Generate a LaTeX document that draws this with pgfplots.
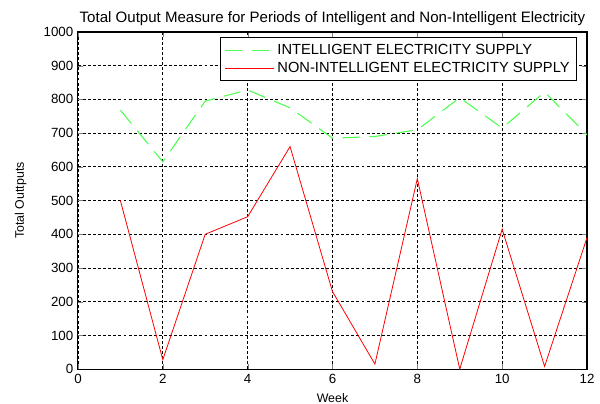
\documentclass[border=0pt]{standalone}
\usepackage{fontspec}
\setmainfont{Liberation Sans}
\usepackage{pgfplots}
\pgfplotsset{compat=1.18}
\definecolor{lgreen}{rgb}{0.3,1,0.3}

\begin{document}
\begin{tikzpicture}
\begin{axis}[
    scale only axis,
    width=382pt, height=253pt,
    xmin=0, xmax=12, ymin=0, ymax=1000,
    xtick={0,2,...,12},
    ytick={0,100,...,1000},
    tick align=inside,
    tick pos=both,
    major tick length=4pt,
    grid=major,
    major grid style={black, dash pattern=on 2.2pt off 1.6pt, line width=0.6pt},
    axis line style={black, line width=0.8pt},
    /pgf/number format/assume math mode=true,
    /pgf/number format/1000 sep={},
    tick label style={font=\fontsize{10}{12}\selectfont},
    xlabel={Week},
    ylabel={Total Outtputs},
    label style={font=\fontsize{9.3}{11}\selectfont},
    xlabel style={yshift=-0.5pt},
    ylabel style={yshift=6pt},
    title={Total Output Measure for Periods of Intelligent and Non-Intelligent Electricity},
    title style={font=\fontsize{11.3}{13}\selectfont, yshift=-4.5pt},
    legend style={at={(0.98,0.985)}, anchor=north east, draw=black, line width=0.8pt,
        font=\fontsize{11}{13}\selectfont, row sep=0pt, inner sep=3pt},
    legend cell align=left,
    legend image code/.code={\draw[#1] (0cm,0cm) -- (1.3cm,0cm);},
]
\addplot[lgreen, line width=0.8pt, dash pattern=on 13pt off 7pt] coordinates {
    (1,768) (2,615) (3,795) (4,828) (5,775) (6,685)
    (7,690) (8,710) (9,805) (10,715) (11,822) (12,695)
};
\addlegendentry{INTELLIGENT ELECTRICITY SUPPLY}
\addplot[red, line width=0.6pt] coordinates {
    (1,500) (2,28) (3,400) (4,452) (5,660) (6,230)
    (7,15) (8,565) (9,0) (10,415) (11,8) (12,390)
};
\addlegendentry{NON-INTELLIGENT ELECTRICITY SUPPLY}
\end{axis}
\pgfresetboundingbox
\path[use as bounding box] ([shift={(-58.5pt,-25.5pt)}]current axis.south west)
    rectangle ([shift={(9.75pt,24pt)}]current axis.north east);
\end{tikzpicture}
\end{document}
